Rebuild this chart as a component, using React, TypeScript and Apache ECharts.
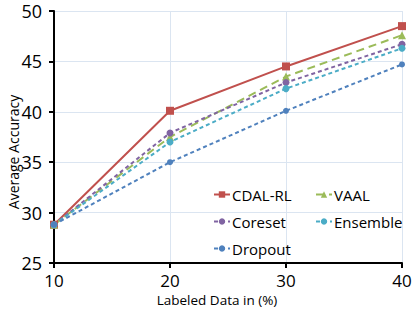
import React, { useEffect, useRef } from "react";
import * as echarts from "echarts";

const categories = [10, 20, 30, 40];
const cdalRL = [28.8, 40.1, 44.5, 48.5];
const vaal = [28.8, 37.5, 43.5, 47.6];
const coreset = [28.8, 37.9, 42.9, 46.7];
const ensemble = [28.8, 37.0, 42.3, 46.3];
const dropout = [28.8, 35.0, 40.1, 44.7];
const yTicks = [25, 30, 35, 40, 45, 50];
const xTitle = "Labeled Data in (%)";
const yTitle = "Average Accuracy";

const FONT = "Open Sans";

export default function App() {
  const ref = useRef<HTMLDivElement>(null);
  useEffect(() => {
    const chart = echarts.init(ref.current!, null, { renderer: "svg" });
    const mk = (name: string, data: number[], color: string, symbol: string, size: number, type: any) => ({
      name,
      type: "line",
      data: categories.map((c, i) => [c, data[i]]),
      symbol,
      symbolSize: size,
      itemStyle: { color },
      lineStyle: { color, width: 2, type },
    });
    const legendCommon = {
      orient: "vertical" as const,
      itemWidth: 16,
      itemHeight: 8,
      itemGap: 12,
      textStyle: { fontFamily: FONT, fontSize: 15, color: "#000", padding: [0, 0, 0, -3] },
      padding: 0,
    };
    chart.setOption({
      animation: false,
      grid: { left: 54, right: 13, top: 11, bottom: 49 },
      legend: [
        { ...legendCommon, left: 213, top: 187, data: ["CDAL-RL", "Coreset", "Dropout"] },
        { ...legendCommon, left: 315, top: 187, data: ["VAAL", "Ensemble"] },
      ],
      graphic: [
        {
          type: "text",
          x: 217,
          y: 300,
          style: { text: xTitle, font: `13.5px "${FONT}"`, fill: "#000", align: "center", verticalAlign: "middle" },
        },
        {
          type: "text",
          x: 13,
          y: 152,
          rotation: Math.PI / 2,
          style: { text: yTitle, font: `14px "${FONT}"`, fill: "#000", align: "center", verticalAlign: "middle" },
        },
      ],
      xAxis: {
        type: "value",
        min: 10,
        max: 40,
        interval: 10,
        axisLine: { lineStyle: { color: "#000", width: 2 } },
        axisTick: { show: true, length: 5, lineStyle: { color: "#000", width: 2 } },
        axisLabel: { fontFamily: FONT, fontSize: 17, color: "#000", margin: 9 },
        splitLine: { show: true, lineStyle: { color: "#dbe5f1", width: 1 } },
      },
      yAxis: {
        type: "value",
        min: yTicks[0],
        max: yTicks[yTicks.length - 1],
        interval: 5,
        axisLine: { show: true, lineStyle: { color: "#000", width: 2 } },
        axisTick: { show: true, length: 5, lineStyle: { color: "#000", width: 2 } },
        axisLabel: { fontFamily: FONT, fontSize: 18, color: "#000", margin: 12 },
        splitLine: { show: true, lineStyle: { color: "#dbe5f1", width: 1 } },
      },
      series: [
        mk("CDAL-RL", cdalRL, "#c0504d", "rect", 8, "solid"),
        mk("VAAL", vaal, "#9bbb59", "triangle", 8, [8, 5]),
        mk("Coreset", coreset, "#8064a2", "circle", 7, [4, 3]),
        mk("Ensemble", ensemble, "#4bacc6", "circle", 7, [4, 3]),
        mk("Dropout", dropout, "#4f81bd", "circle", 6, [4, 3]),
      ],
    });
    return () => chart.dispose();
  }, []);
  return <div ref={ref} style={{ width: 415, height: 312, position: "absolute", left: 0, top: 0 }} />;
}
